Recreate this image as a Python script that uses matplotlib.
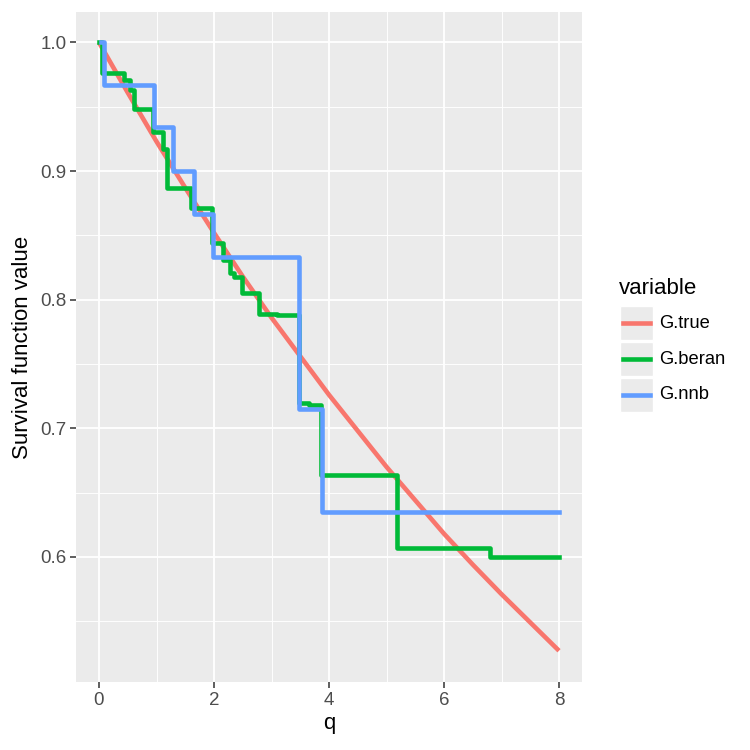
import matplotlib
matplotlib.use("Agg")
import matplotlib.pyplot as plt
from matplotlib.lines import Line2D
from matplotlib.patches import Rectangle

plt.rcParams['font.family'] = ['Liberation Sans', 'DejaVu Sans']

# true survival curve
q_true = [0, 0.5, 1, 1.5, 2, 2.5, 3, 3.5, 4, 4.5, 5, 5.5, 6, 6.5, 7, 7.5, 8]
g_true = [1.0, 0.961, 0.923, 0.887, 0.852, 0.818, 0.786, 0.756, 0.726,
          0.698, 0.670, 0.644, 0.618, 0.594, 0.571, 0.549, 0.527]

# Beran estimator (step function, value holds from q to next q)
q_beran = [0.0, 0.05, 0.43, 0.54, 0.61, 0.94, 1.11, 1.18, 1.6, 1.97, 2.15,
           2.28, 2.35, 2.48, 2.78, 3.1, 3.47, 3.65, 3.86, 5.19, 6.8, 8.0]
g_beran = [1.0, 0.976, 0.971, 0.963, 0.948, 0.930, 0.917, 0.887, 0.871, 0.844,
           0.831, 0.821, 0.818, 0.805, 0.789, 0.788, 0.720, 0.718, 0.664,
           0.607, 0.600, 0.600]

# nnb estimator
q_nnb = [0.04, 0.08, 0.96, 1.28, 1.65, 1.98, 3.47, 3.87, 8.0]
g_nnb = [1.0, 0.967, 0.934, 0.900, 0.867, 0.833, 0.715, 0.635, 0.635]

labels = ["G.true", "G.beran", "G.nnb"]
colors = ["#F8766D", "#00BA38", "#619CFF"]

fig = plt.figure(figsize=(7.5, 7.5), dpi=100)
ax = fig.add_axes([76 / 750, 68 / 750, 506 / 750, 670 / 750])
ax.set_facecolor("#EBEBEB")
for s in ax.spines.values():
    s.set_visible(False)

lw = 3.3
ax.plot(q_true, g_true, color=colors[0], lw=lw, solid_capstyle="butt", zorder=3)
ax.plot(q_beran, g_beran, color=colors[1], lw=lw, drawstyle="steps-post", zorder=4)
ax.plot(q_nnb, g_nnb, color=colors[2], lw=lw, drawstyle="steps-post", zorder=5)

ax.set_xlim(-0.4, 8.4)
ax.set_ylim(0.5027, 1.0237)
ax.set_xticks([0, 2, 4, 6, 8])
ax.set_xticks([1, 3, 5, 7], minor=True)
ax.set_yticks([0.6, 0.7, 0.8, 0.9, 1.0])
ax.set_yticks([0.55, 0.65, 0.75, 0.85, 0.95], minor=True)
ax.set_yticklabels(["0.6", "0.7", "0.8", "0.9", "1.0"])
ax.grid(which="major", color="white", lw=1.3, zorder=0)
ax.grid(which="minor", color="white", lw=0.65, zorder=0)
ax.set_axisbelow(True)
ax.tick_params(which="major", length=4, width=1.1, color="#333333",
               labelsize=13.5, labelcolor="#4D4D4D", pad=3)
ax.tick_params(which="minor", length=0)

ax.set_xlabel("q", fontsize=16, labelpad=3)
ax.set_ylabel("Survival function value", fontsize=16, labelpad=5)

# legend drawn by hand, ggplot style
fig.text(619 / 750, 1 - 288 / 750, "variable", fontsize=16, va="center", ha="left")
for i, (lab, col) in enumerate(zip(labels, colors)):
    yc = 323 + 36 * i
    fig.patches.append(Rectangle((620 / 750, 1 - (yc + 17) / 750), 33 / 750, 34 / 750,
                                 transform=fig.transFigure, facecolor="#EBEBEB",
                                 edgecolor="white", lw=1))
    fig.lines.append(Line2D([623 / 750, 650 / 750], [1 - yc / 750, 1 - yc / 750],
                            transform=fig.transFigure, color=col, lw=lw))
    fig.text(659 / 750, 1 - yc / 750, lab, fontsize=13.2, va="center", ha="left")

fig.savefig("out.png", dpi=100)
